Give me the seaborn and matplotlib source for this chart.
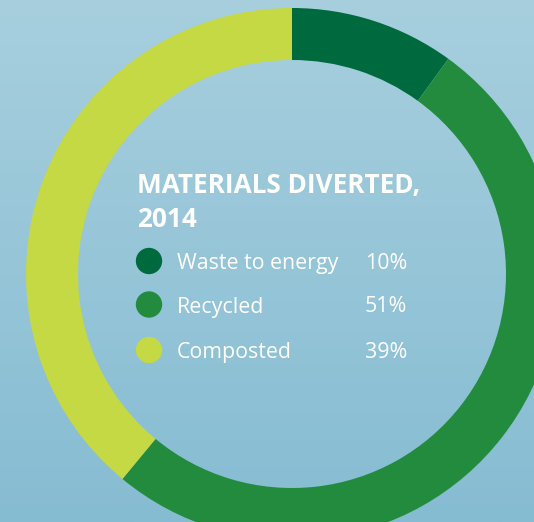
import numpy as np
import matplotlib
matplotlib.use("Agg")
import matplotlib.pyplot as plt
import seaborn as sns
import pandas as pd

# ---- data ----
categories = ["Waste to energy", "Recycled", "Composted"]
values = [10, 51, 39]
labels_pct = ["10%", "51%", "39%"]
colors = ["#006A3F", "#238B3D", "#C4D943"]
title_lines = ["MATERIALS DIVERTED,", "2014"]

sns.set_theme(style="white")
plt.rcParams["font.family"] = ["Open Sans", "DejaVu Sans"]

W, H = 534, 522
fig = plt.figure(figsize=(W / 100, H / 100), dpi=100)

# background gradient
bg = fig.add_axes([0, 0, 1, 1])
top = np.array([167, 207, 222]) / 255
bot = np.array([134, 188, 210]) / 255
t = np.linspace(0, 1, 256)[:, None]
grad = top[None, :] * (1 - t) + bot[None, :] * t
bg.imshow(grad[:, None, :], aspect="auto", extent=[0, 1, 0, 1], origin="upper")
bg.set_axis_off()

ax = fig.add_axes([0, 0, 1, 1])
ax.set_xlim(0, W)
ax.set_ylim(0, H)
ax.set_axis_off()
ax.patch.set_alpha(0)

cx, cy = 292, H - 274
R, ring = 266, 52
ax.pie(values, colors=colors, startangle=90, counterclock=False,
       center=(cx, cy), radius=R,
       wedgeprops=dict(width=ring, linewidth=0, antialiased=True),
       frame=True)
ax.set_xlim(0, W)
ax.set_ylim(0, H)
ax.set_axis_off()

# title
ax.text(137, H - 193, title_lines[0], color="white", fontsize=18.8,
        fontweight="bold", ha="left", va="baseline")
ax.text(137, H - 227, title_lines[1], color="white", fontsize=18.8,
        fontweight="bold", ha="left", va="baseline")

# legend
ys = [H - 261, H - 304.5, H - 350]
df = pd.DataFrame({"x": [149] * 3, "y": ys, "cat": categories})
sns.scatterplot(data=df, x="x", y="y", hue="cat", palette=colors,
                s=360, linewidth=0, legend=False, ax=ax)
ax.set_xlim(0, W)
ax.set_ylim(0, H)
ax.set_axis_off()
for y, c, p in zip(ys, categories, labels_pct):
    ax.text(177, y, c, color="white", fontsize=15.4, ha="left", va="center_baseline")
    ax.text(407, y, p, color="white", fontsize=15.4, ha="right", va="center_baseline")

fig.savefig("out.png", dpi=100)
